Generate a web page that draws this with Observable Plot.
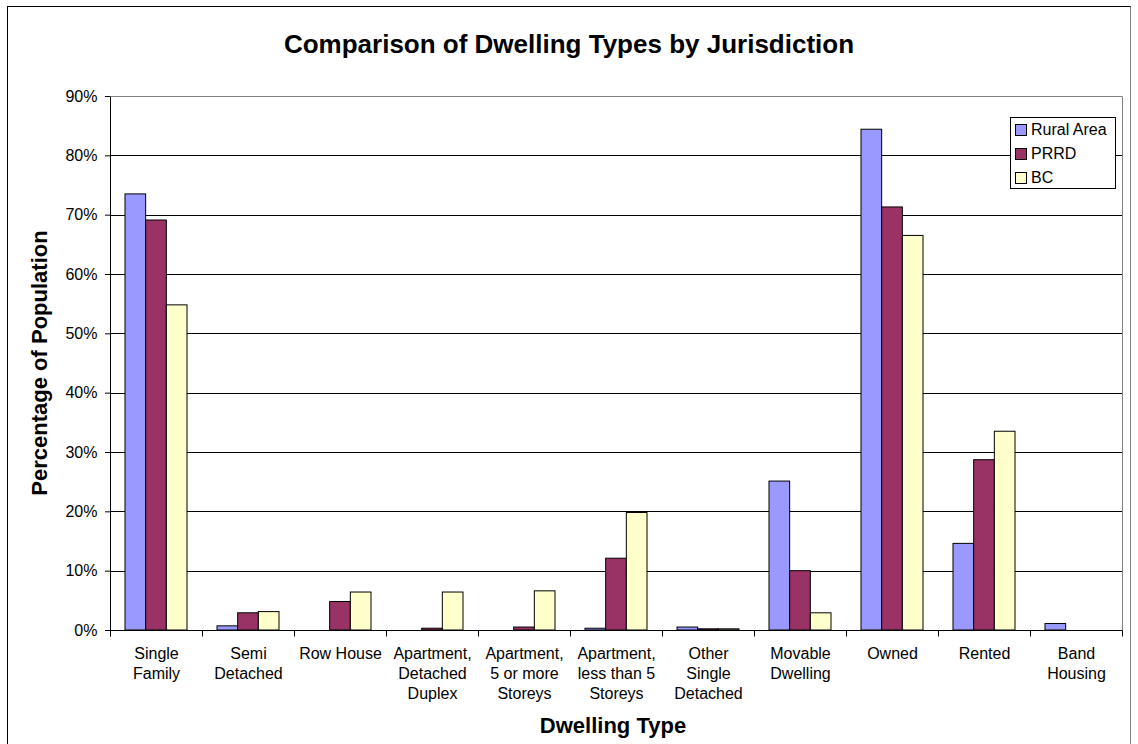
<!DOCTYPE html>
<html>
<head>
<meta charset="utf-8">
<script src="https://cdn.jsdelivr.net/npm/d3@7"></script>
<script src="https://cdn.jsdelivr.net/npm/@observablehq/plot@0.6"></script>
<style>
  html, body { margin: 0; padding: 0; background: #fff; }
  #chart { position: relative; width: 1138px; height: 744px; overflow: hidden; font-family: Arial, "Liberation Sans", sans-serif; color: #000; }
  #chart svg { position: absolute; left: 0; top: 0; }
  .outer { position: absolute; left: 7px; top: 6px; width: 1124px; height: 760px; border-left: 1px solid #000; border-top: 1px solid #000; border-right: 1px solid #808080; box-sizing: border-box; }
  .title { position: absolute; left: 0; width: 1138px; top: 31px; text-align: center; font-weight: bold; font-size: 26px; line-height: 26px; }
  .xtitle { position: absolute; left: 413px; width: 400px; top: 715px; text-align: center; font-weight: bold; font-size: 22px; line-height: 22px; }
  .ytitle { position: absolute; left: -160px; width: 400px; top: 352px; text-align: center; font-weight: bold; font-size: 22px; line-height: 22px; transform: rotate(-90deg); transform-origin: 200px 11px; }
  .legend { position: absolute; left: 1010px; top: 117px; width: 106px; height: 72px; border: 1px solid #000; background: #fff; box-sizing: border-box; font-size: 16px; }
  .legend .row { height: 24px; line-height: 24px; white-space: nowrap; display: flex; align-items: center; }
  .legend .sw { width: 10px; height: 10px; border: 1px solid #000; margin-left: 4px; margin-right: 4px; flex: none; }
</style>
</head>
<body>
<div id="chart">
  <div class="outer"></div>
</div>
<script>
// ---- data ----
const categories = [
  "Single Family", "Semi Detached", "Row House", "Apartment, Detached Duplex",
  "Apartment, 5 or more Storeys", "Apartment, less than 5 Storeys",
  "Other Single Detached", "Movable Dwelling", "Owned", "Rented", "Band Housing"
];
const tickLabels = [
  "Single\nFamily", "Semi\nDetached", "Row House", "Apartment,\nDetached\nDuplex",
  "Apartment,\n5 or more\nStoreys", "Apartment,\nless than 5\nStoreys",
  "Other\nSingle\nDetached", "Movable\nDwelling", "Owned", "Rented", "Band\nHousing"
];
const seriesNames = ["Rural Area", "PRRD", "BC"];
const seriesColors = ["#9999FF", "#993366", "#FFFFCC"];
const ruralArea = [73.5, 0.7, 0, 0, 0, 0.3, 0.5, 25.1, 84.4, 14.6, 1.1];
const prrd      = [69.1, 2.9, 4.8, 0.3, 0.5, 12.1, 0.2, 10.0, 71.3, 28.7, 0];
const bc        = [54.8, 3.1, 6.4, 6.4, 6.6, 19.8, 0.2, 2.9, 66.5, 33.5, 0];
const yTicks = [0, 10, 20, 30, 40, 50, 60, 70, 80, 90];
const gridTicks = [10, 20, 30, 40, 50, 60, 70, 80];

const seriesValues = [ruralArea, prrd, bc];
const table = [];
categories.forEach((c, i) => {
  seriesNames.forEach((s, j) => table.push({category: c, series: s, value: seriesValues[j][i]}));
});

// plot-area frame, gridlines, axis lines and category-boundary ticks (drawn once across all facets)
const decor = () => Plot.frame({
  facet: "super",
  render(index, scales, values, dims) {
    const g = d3.create("svg:g");
    const {fx, y} = scales;
    const [left, right] = fx.range();
    const [bottom, top] = y.range();
    const px = v => Math.round(v) + 0.5;
    // gridlines
    g.selectAll(null).data(gridTicks).join("line")
      .attr("x1", left).attr("x2", right)
      .attr("y1", d => px(y(d))).attr("y2", d => px(y(d)))
      .attr("stroke", "#000");
    // grey plot-area border (top and right)
    g.append("path")
      .attr("d", `M${px(left)},${px(top)}H${px(right)}V${px(bottom)}`)
      .attr("fill", "none").attr("stroke", "#808080");
    // value axis line and category axis line
    g.append("line").attr("x1", px(left)).attr("x2", px(left)).attr("y1", px(top)).attr("y2", px(bottom) + 6).attr("stroke", "#000");
    g.append("line").attr("x1", px(left)).attr("x2", px(right)).attr("y1", px(bottom)).attr("y2", px(bottom)).attr("stroke", "#000");
    // category boundary ticks
    const gap = fx.step() - fx.bandwidth();
    const edges = categories.map(c => fx(c) - gap / 2);
    edges.push(fx(categories[categories.length - 1]) + fx.bandwidth() + gap / 2);
    g.selectAll(null).data(edges).join("line")
      .attr("x1", d => px(d)).attr("x2", d => px(d))
      .attr("y1", px(bottom)).attr("y2", px(bottom) + 6).attr("stroke", "#000");
    return g.node();
  }
});

const chart = Plot.plot({
  width: 1138,
  height: 744,
  marginTop: 96,
  marginLeft: 110,
  marginRight: 16,
  marginBottom: 114,
  style: {fontFamily: "Arial, 'Liberation Sans', sans-serif", fontSize: "16px", background: "transparent", color: "#000", overflow: "visible"},
  fx: {domain: categories, paddingInner: 0.326, paddingOuter: 0.163, round: false, label: null, axis: null},
  x: {domain: seriesNames, padding: 0, round: false, axis: null},
  y: {domain: [0, 90], axis: null},
  color: {domain: seriesNames, range: seriesColors},
  marks: [
    decor(),
    Plot.barY(table, {fx: "category", x: "series", y: "value", fill: "series", stroke: "#000", strokeWidth: 1}),
    Plot.axisY({ticks: yTicks, tickFormat: d => d + "%", tickSize: 5, tickPadding: 8, fontSize: 16, label: null, dx: -15}),
    Plot.axisFx({anchor: "bottom", tickSize: 0, tickPadding: 14, fontSize: 16, lineHeight: 1.25, label: null,
      tickFormat: d => tickLabels[categories.indexOf(d)]})
  ]
});

const root = document.getElementById("chart");
root.appendChild(chart);

const title = document.createElement("div");
title.className = "title";
title.textContent = "Comparison of Dwelling Types by Jurisdiction";
root.appendChild(title);

const xt = document.createElement("div");
xt.className = "xtitle";
xt.textContent = "Dwelling Type";
root.appendChild(xt);

const yt = document.createElement("div");
yt.className = "ytitle";
yt.textContent = "Percentage of Population";
root.appendChild(yt);

const legend = document.createElement("div");
legend.className = "legend";
seriesNames.forEach((s, i) => {
  const row = document.createElement("div");
  row.className = "row";
  const sw = document.createElement("span");
  sw.className = "sw";
  sw.style.background = seriesColors[i];
  const t = document.createElement("span");
  t.textContent = s;
  row.appendChild(sw);
  row.appendChild(t);
  legend.appendChild(row);
});
root.appendChild(legend);
</script>
</body>
</html>
